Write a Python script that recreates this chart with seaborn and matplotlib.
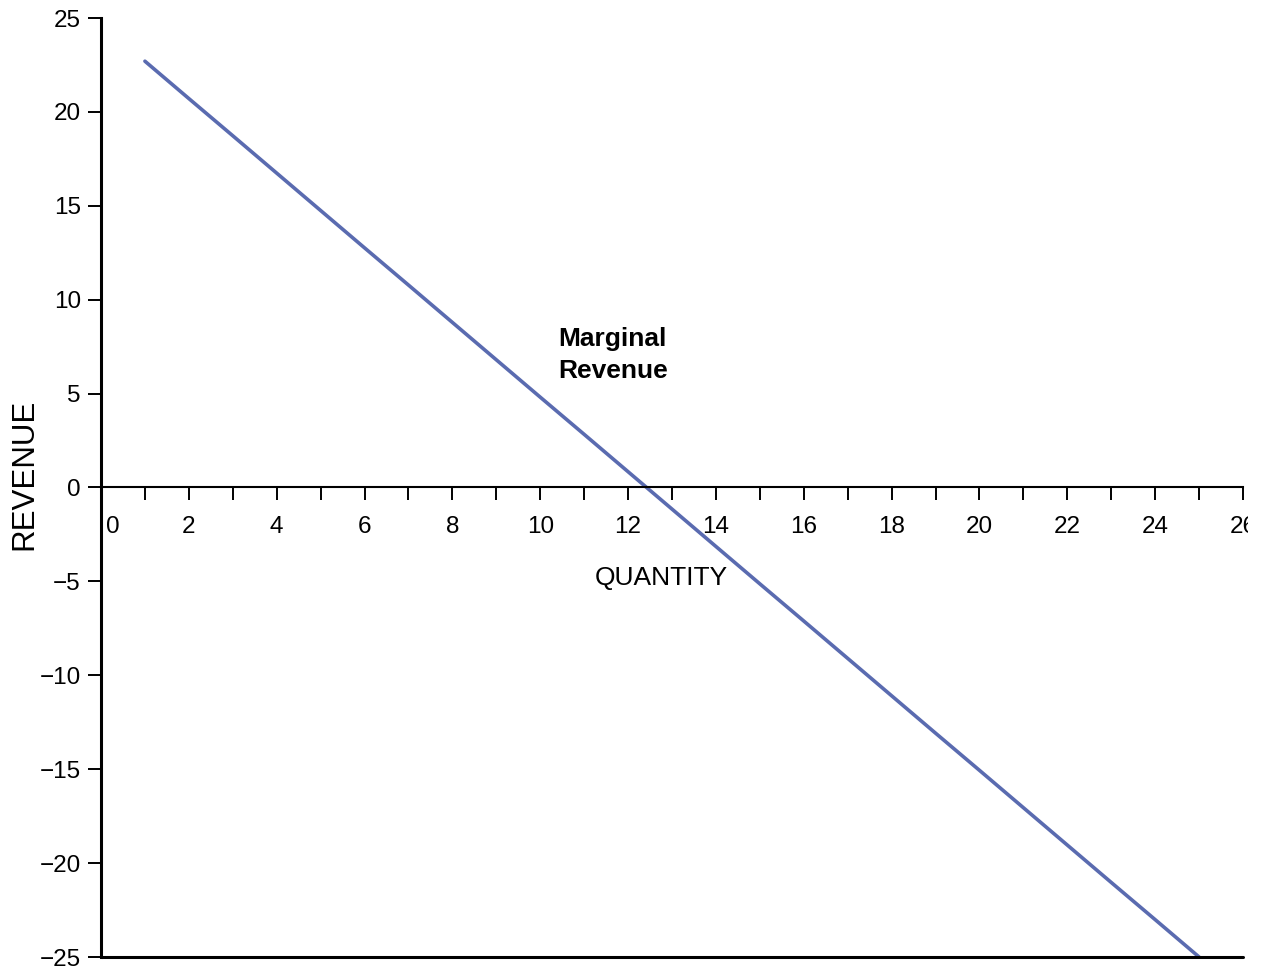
import numpy as np
import matplotlib
matplotlib.use('Agg')
import matplotlib.pyplot as plt
import matplotlib.transforms as mtransforms
import seaborn as sns
import pandas as pd

# data
quantity = [1, 2, 3, 4, 5, 6, 7, 8, 9, 10, 11, 12, 13,
            14, 15, 16, 17, 18, 19, 20, 21, 22, 23, 24, 25]
marginal_revenue = [22.70, 20.71, 18.73, 16.74, 14.75, 12.76, 10.78, 8.79, 6.80,
                    4.81, 2.83, 0.84, -1.15, -3.14, -5.13, -7.11, -9.10, -11.09,
                    -13.08, -15.06, -17.05, -19.04, -21.03, -23.01, -25.00]
x_major = [0, 2, 4, 6, 8, 10, 12, 14, 16, 18, 20, 22, 24, 26]
x_minor = [1, 3, 5, 7, 9, 11, 13, 15, 17, 19, 21, 23, 25]
y_ticks = [-25, -20, -15, -10, -5, 0, 5, 10, 15, 20, 25]

sns.set_style('white')
plt.rcParams['font.family'] = ['Liberation Sans', 'DejaVu Sans']
plt.rcParams['text.color'] = 'black'
plt.rcParams['xtick.color'] = 'black'
plt.rcParams['ytick.color'] = 'black'

df = pd.DataFrame({'quantity': quantity, 'mr': marginal_revenue})

fig = plt.figure(figsize=(12.7, 9.71), dpi=100)
ax = fig.add_axes([101 / 1270, 14 / 971, 1142 / 1270, 939 / 971])

sns.lineplot(data=df, x='quantity', y='mr', ax=ax, color='#5A6BB0', linewidth=2.6)

ax.set_xlim(0, 26)
ax.set_ylim(-25, 25)

# x axis runs through zero, plain line at the bottom
ax.spines['bottom'].set_position(('data', 0))
ax.spines['bottom'].set_linewidth(1.5)
ax.spines['top'].set_visible(False)
ax.spines['right'].set_visible(False)
ax.spines['left'].set_linewidth(2.2)
for s in ax.spines.values():
    s.set_color('black')
ax.axhline(-25, color='black', linewidth=2.2, clip_on=False)

ax.set_xticks(x_major)
ax.set_xticks(x_minor, minor=True)
ax.set_xticklabels([str(v) for v in x_major])
ax.set_yticks(y_ticks)
ax.tick_params(axis='x', which='both', direction='out', length=9.5, width=1.4,
               color='black', labelcolor='black', labelsize=17.5, pad=11, bottom=True)
ax.tick_params(axis='y', direction='out', length=9.5, width=1.4,
               color='black', labelcolor='black', labelsize=17.5, pad=5, left=True)

ax.set_xlabel('')
ax.set_ylabel('')

fig.canvas.draw()
labels = ax.get_xticklabels()
# first label nudged off the spine, last one clipped at the figure edge
labels[0].set_transform(labels[0].get_transform() +
                        mtransforms.ScaledTranslation(12 / 100, 0, fig.dpi_scale_trans))
clip = mtransforms.Bbox.from_extents(0, 0, 1248, 971)
for lab in labels:
    lab.set_clip_box(clip)
    lab.set_clip_on(True)

ax.text(12.75, -4.8, 'QUANTITY', fontsize=19, ha='center', va='center', color='black')
ax.text(10.4, 7.05, 'Marginal\nRevenue', fontsize=19, fontweight='bold',
        ha='left', va='center', linespacing=1.4, color='black')
fig.text(24 / 1270, 1 - 474 / 971, 'REVENUE', fontsize=22.5, rotation=90,
         ha='center', va='center', color='black')

fig.savefig('out.png', dpi=100)
